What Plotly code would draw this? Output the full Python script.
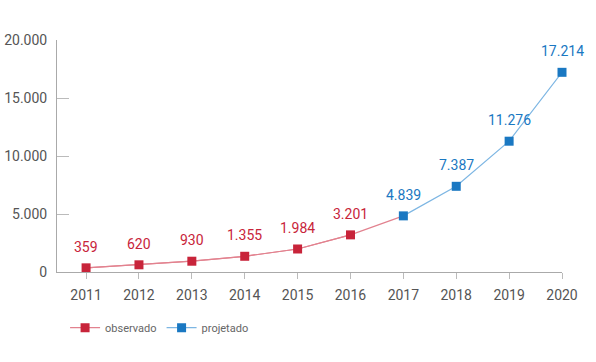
import plotly.graph_objects as go

years_obs = [2011, 2012, 2013, 2014, 2015, 2016]
vals_obs = [359, 620, 930, 1355, 1984, 3201]
years_proj = [2017, 2018, 2019, 2020]
vals_proj = [4839, 7387, 11276, 17214]
y_ticks = [0, 5000, 10000, 15000, 20000]

RED = "#c8243a"
RED_LINE = "#e2828f"
BLUE = "#1a78c2"
BLUE_LINE = "#7db6e3"
GRAY = "#555555"
FONT = "Roboto"

def fmt(v):
    return f"{v:,}".replace(",", ".")

fig = go.Figure()
fig.add_trace(go.Scatter(
    x=years_obs + years_proj[:1], y=vals_obs + vals_proj[:1],
    mode="lines", line=dict(color=RED_LINE, width=1.2),
    showlegend=False, hoverinfo="skip", cliponaxis=False))
fig.add_trace(go.Scatter(
    x=years_obs, y=vals_obs, mode="lines+markers", name="observado",
    line=dict(color=RED_LINE, width=1.2), cliponaxis=False,
    marker=dict(symbol="square", size=9, color=RED)))
fig.add_trace(go.Scatter(
    x=years_proj, y=vals_proj, mode="lines+markers", name="projetado",
    line=dict(color=BLUE_LINE, width=1.2), cliponaxis=False,
    marker=dict(symbol="square", size=9, color=BLUE)))

for x, v in zip(years_obs, vals_obs):
    fig.add_annotation(x=x, y=v, text=fmt(v), showarrow=False, yshift=21,
                       font=dict(family=FONT, size=14, color=RED))
for x, v in zip(years_proj, vals_proj):
    fig.add_annotation(x=x, y=v, text=fmt(v), showarrow=False, yshift=21,
                       font=dict(family=FONT, size=14, color=BLUE))

fig.update_layout(
    width=596, height=362,
    margin=dict(l=57, r=34, t=40, b=90),
    paper_bgcolor="white", plot_bgcolor="white",
    separators=",.",
    font=dict(family=FONT, color=GRAY),
    legend=dict(orientation="h", x=0.016, xanchor="left", y=-0.24, yanchor="middle",
                font=dict(family=FONT, size=11, color="#666666"), itemwidth=30),
    xaxis=dict(range=[2010.45, 2020], tickmode="array", automargin=False,
               tickvals=years_obs + years_proj,
               ticktext=[str(y) for y in years_obs + years_proj],
               showgrid=False, zeroline=False, showline=True, linecolor="#aaaaaa",
               linewidth=1, ticks="outside", ticklen=6, tickcolor="#bbbbbb",
               ticklabelstandoff=4,
               tickfont=dict(family=FONT, size=14, color=GRAY)),
    yaxis=dict(range=[0, 20000], tickmode="array", tickvals=y_ticks, automargin=False,
               ticktext=[fmt(v) for v in y_ticks],
               showgrid=False, zeroline=False, showline=True, linecolor="#aaaaaa",
               linewidth=1, ticks="inside", ticklen=12, tickcolor="#bbbbbb",
               ticklabelstandoff=6,
               tickfont=dict(family=FONT, size=14, color=GRAY)),
)

fig.write_html("out.html", config={"displayModeBar": False},
               post_script="document.body.style.margin='0';")
